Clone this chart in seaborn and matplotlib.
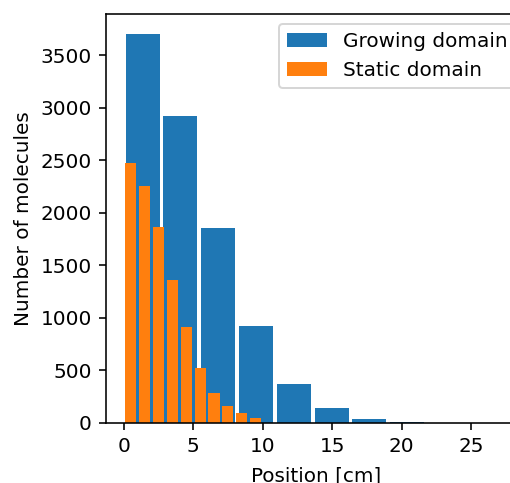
import numpy as np
import pandas as pd
import matplotlib
matplotlib.use("Agg")
import matplotlib.pyplot as plt
import seaborn as sns

# histogram bins (cm) and counts
growing_edges = list(np.linspace(0.0, 27.2, 11))
growing_counts = [3708, 2919, 1857, 922, 369, 147, 42, 6, 1, 1]

static_edges = list(np.linspace(0.0, 10.0, 11))
static_counts = [2472, 2258, 1870, 1364, 910, 525, 290, 159, 95, 45]

growing = pd.DataFrame({
    "position": [(a + b) / 2 for a, b in zip(growing_edges[:-1], growing_edges[1:])],
    "count": growing_counts,
})
static = pd.DataFrame({
    "position": [(a + b) / 2 for a, b in zip(static_edges[:-1], static_edges[1:])],
    "count": static_counts,
})

fig = plt.figure(figsize=(510 / 144, 483 / 144), dpi=144)
# the right side of the axes runs past the edge of the picture, as in the original
ax = fig.add_axes([106 / 510, 60 / 483, 420 / 510, 409 / 483])

sns.histplot(data=growing, x="position", weights="count", bins=growing_edges,
             shrink=0.9, color="C0", alpha=1, linewidth=0,
             label="Growing domain", ax=ax)
sns.histplot(data=static, x="position", weights="count", bins=static_edges,
             shrink=0.8, color="C1", alpha=1, linewidth=0,
             label="Static domain", ax=ax)

ax.set_xlim(-1.27, 28.94)
ax.set_ylim(0, 3895)
ax.set_xlabel("Position [cm]", labelpad=5)
ax.set_ylabel("Number of molecules")
ax.legend(loc="upper right")

fig.savefig("out.png", dpi=144)
